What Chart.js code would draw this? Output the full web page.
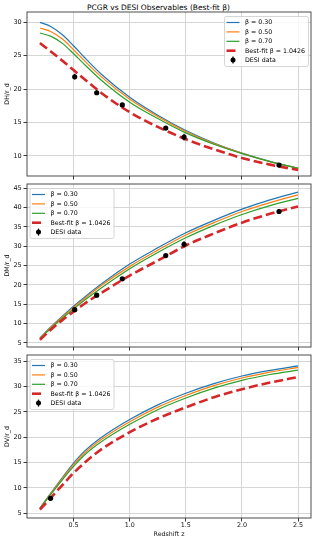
<!DOCTYPE html>
<html>
<head>
<meta charset="utf-8">
<script src="https://cdn.jsdelivr.net/npm/chart.js@4.4.0/dist/chart.umd.min.js"></script>
<style>
  body { margin: 0; background: #fff; }
  #wrap { position: relative; width: 317px; height: 542px; }
  canvas { position: absolute; left: 0; }
  #title {
    position: absolute; top: 3px; left: 0; width: 317px;
    text-align: center; font: 7.5px/9px "DejaVu Sans"; color: #000;
  }
</style>
</head>
<body>
<div id="wrap">
  <div id="title">PCGR vs DESI Observables (Best-fit β)</div>
  <canvas id="cDH" width="317" height="180" style="top:0px"></canvas>
  <canvas id="cDM" width="317" height="171" style="top:180px"></canvas>
  <canvas id="cDV" width="317" height="191" style="top:351px"></canvas>
</div>
<script>
// redshift grid the model curves were read at
const zGrid = [0.2, 0.3, 0.4, 0.5, 0.6, 0.75, 1.0, 1.25, 1.5, 1.75, 2.0, 2.25, 2.5];

// DH / r_d
const dhB030 = [30.0, 29.35, 28.15, 26.5, 24.7, 22.2, 18.8, 16.1, 13.8, 11.95, 10.45, 9.2, 8.15];
const dhB050 = [29.15, 28.6, 27.5, 25.9, 24.2, 21.8, 18.5, 15.9, 13.65, 11.85, 10.4, 9.15, 8.15];
const dhB070 = [28.4, 27.9, 26.85, 25.3, 23.65, 21.3, 18.05, 15.6, 13.45, 11.75, 10.35, 9.15, 8.15];
const dhBest = [26.9, 25.6, 24.25, 22.85, 21.45, 19.4, 16.55, 14.35, 12.5, 11.0, 9.7, 8.7, 7.9];

// DM / r_d
const dmB030 = [6.3, 9.2, 11.9, 14.5, 16.9, 20.3, 25.4, 29.6, 33.5, 36.7, 39.6, 42.0, 44.0];
const dmB050 = [6.2, 9.05, 11.7, 14.2, 16.5, 19.9, 24.8, 29.0, 32.9, 36.1, 39.0, 41.3, 43.3];
const dmB070 = [6.1, 8.85, 11.4, 13.8, 16.1, 19.3, 24.2, 28.4, 32.2, 35.4, 38.2, 40.5, 42.4];
const dmBest = [5.8, 8.5, 10.9, 13.1, 15.2, 18.0, 22.4, 26.3, 30.2, 33.3, 36.1, 38.4, 40.3];

// DV / r_d
const dvB030 = [6.0, 9.05, 12.05, 14.9, 17.3, 20.0, 23.5, 26.4, 28.7, 30.6, 32.1, 33.2, 34.1];
const dvB050 = [5.95, 8.95, 11.85, 14.6, 16.95, 19.6, 23.05, 25.95, 28.25, 30.2, 31.7, 32.85, 33.8];
const dvB070 = [5.9, 8.8, 11.6, 14.25, 16.55, 19.15, 22.55, 25.45, 27.75, 29.7, 31.25, 32.4, 33.25];
const dvBest = [5.7, 8.1, 10.55, 12.95, 15.0, 17.65, 21.0, 23.7, 25.9, 27.9, 29.5, 30.8, 31.9];

// DESI points
const desiZ = [0.51, 0.706, 0.934, 1.321, 1.484, 2.33];
const desiDH = [21.86, 19.46, 17.64, 14.18, 12.82, 8.63];
const desiDHErr = [0.43, 0.33, 0.19, 0.22, 0.52, 0.10];
const desiDM = [13.59, 17.35, 21.58, 27.60, 30.51, 38.99];
const desiDMErr = [0.17, 0.18, 0.16, 0.32, 0.76, 0.53];
const desiDVZ = [0.295];
const desiDV = [7.94];
const desiDVErr = [0.08];

// axes
const xTicks = [0.5, 1.0, 1.5, 2.0, 2.5];
const dhTicks = [10, 15, 20, 25, 30];
const dmTicks = [5, 10, 15, 20, 25, 30, 35, 40, 45];
const dvTicks = [5, 10, 15, 20, 25, 30, 35];

const FONT = "DejaVu Sans";
const BLUE = "#1f77b4", ORANGE = "#ff7f0e", GREEN = "#2ca02c", RED = "#d62728";

function pts(xs, ys) {
  return xs.map((x, i) => ({ x: x, y: ys[i] }));
}

function curve(label, ys, color, order, dashed) {
  return {
    label: label,
    data: pts(zGrid, ys),
    borderColor: color,
    borderWidth: dashed ? 2.6 : 1.2,
    borderDash: dashed ? [9, 4] : [],
    pointRadius: 0,
    fill: false,
    cubicInterpolationMode: "monotone",
    order: order
  };
}

// spines on all four sides
const framePlugin = {
  id: "frame",
  afterDatasetsDraw(chart) {
    const a = chart.chartArea, ctx = chart.ctx;
    ctx.save();
    ctx.strokeStyle = "#3a3a3a";
    ctx.lineWidth = 0.9;
    ctx.strokeRect(a.left, a.top, a.right - a.left, a.bottom - a.top);
    ctx.restore();
  }
};

// vertical error bars for the DESI set
const errorBarPlugin = {
  id: "errBars",
  afterDatasetsDraw(chart) {
    const ctx = chart.ctx, xs = chart.scales.x, ys = chart.scales.y;
    chart.data.datasets.forEach(ds => {
      if (!ds.errs) return;
      ctx.save();
      ctx.strokeStyle = "#000";
      ctx.lineWidth = 1.2;
      ds.data.forEach((p, i) => {
        const px = xs.getPixelForValue(p.x);
        ctx.beginPath();
        ctx.moveTo(px, ys.getPixelForValue(p.y - ds.errs[i]));
        ctx.lineTo(px, ys.getPixelForValue(p.y + ds.errs[i]));
        ctx.stroke();
      });
      ctx.restore();
    });
  }
};

// matplotlib-like legend box inside the axes
const legendPlugin = {
  id: "insideLegend",
  afterDraw(chart, args, opts) {
    const ctx = chart.ctx, a = chart.chartArea;
    const w = 84, h = 50;
    const x0 = opts.corner === "right" ? a.right - 3 - w : a.left + 2.5;
    const y0 = a.top + 4;
    ctx.save();
    ctx.beginPath();
    ctx.roundRect(x0 + 0.5, y0 + 0.5, w, h, 2);
    ctx.fillStyle = "rgba(255,255,255,0.8)";
    ctx.fill();
    ctx.strokeStyle = "#cccccc";
    ctx.lineWidth = 0.8;
    ctx.stroke();

    ctx.font = "6.3px " + FONT;
    ctx.textBaseline = "middle";
    ctx.fillStyle = "#000";
    chart.data.datasets.forEach((ds, i) => {
      const cy = y0 + 6.5 + i * 9.4;
      if (ds.errs) {
        ctx.strokeStyle = "#000";
        ctx.lineWidth = 1.2;
        ctx.beginPath();
        ctx.moveTo(x0 + 9, cy - 3.5);
        ctx.lineTo(x0 + 9, cy + 3.5);
        ctx.stroke();
        ctx.beginPath();
        ctx.arc(x0 + 9, cy, 2.5, 0, 2 * Math.PI);
        ctx.fillStyle = "#000";
        ctx.fill();
      } else {
        ctx.strokeStyle = ds.borderColor;
        ctx.lineWidth = ds.borderWidth;
        ctx.setLineDash(ds.borderDash);
        ctx.beginPath();
        ctx.moveTo(x0 + 2.5, cy);
        ctx.lineTo(x0 + 15.5, cy);
        ctx.stroke();
        ctx.setLineDash([]);
      }
      ctx.fillStyle = "#000";
      ctx.fillText(ds.label, x0 + 21, cy + 0.3);
    });
    ctx.restore();
  }
};

function makePanel(canvasId, p) {
  const datasets = [
    curve("β = 0.30", p.b030, BLUE, 5, false),
    curve("β = 0.50", p.b050, ORANGE, 4, false),
    curve("β = 0.70", p.b070, GREEN, 3, false),
    curve("Best-fit β = 1.0426", p.best, RED, 2, true),
    {
      label: "DESI data",
      data: pts(p.dz, p.dv),
      errs: p.de,
      showLine: false,
      pointRadius: 2.6,
      pointBackgroundColor: "#000",
      pointBorderColor: "#000",
      pointBorderWidth: 0,
      order: 1
    }
  ];

  new Chart(document.getElementById(canvasId), {
    type: "line",
    data: { datasets: datasets },
    options: {
      responsive: false,
      animation: false,
      layout: { padding: { top: p.padTop, right: 6, left: 0, bottom: 0 } },
      plugins: {
        legend: { display: false },
        tooltip: { enabled: false },
        insideLegend: { corner: p.corner }
      },
      scales: {
        x: {
          type: "linear",
          min: 0.085,
          max: 2.615,
          afterBuildTicks: s => { s.ticks = xTicks.map(v => ({ value: v })); },
          afterFit: s => { s.height = p.xHeight; s.paddingLeft = 0; s.paddingRight = 0; },
          border: { display: false },
          grid: { color: "#d6d6d6", lineWidth: 1, tickColor: "#3a3a3a", tickLength: 3.5 },
          ticks: {
            display: p.xLabels,
            padding: 0.5,
            color: "#111",
            font: { family: FONT, size: 6.4 },
            maxRotation: 0,
            callback: v => v.toFixed(1)
          },
          title: {
            display: p.xLabels,
            text: "Redshift z",
            color: "#111",
            font: { family: FONT, size: 6.3 },
            padding: { top: 0, bottom: 4.2 }
          }
        },
        y: {
          min: p.yMin,
          max: p.yMax,
          afterBuildTicks: s => { s.ticks = p.yTicks.map(v => ({ value: v })); },
          afterFit: s => { s.width = 27; s.paddingTop = 0; s.paddingBottom = 0; },
          border: { display: false },
          grid: { color: "#d6d6d6", lineWidth: 1, tickColor: "#3a3a3a", tickLength: 3.5 },
          ticks: {
            padding: 1.8,
            color: "#111",
            font: { family: FONT, size: 6.5 },
            callback: v => String(v)
          },
          title: {
            display: true,
            text: p.yTitle,
            color: "#111",
            font: { family: FONT, size: 6.3 },
            padding: { top: 3.2, bottom: 0 }
          }
        }
      }
    },
    plugins: [framePlugin, errorBarPlugin, legendPlugin]
  });
}

makePanel("cDH", {
  b030: dhB030, b050: dhB050, b070: dhB070, best: dhBest,
  dz: desiZ, dv: desiDH, de: desiDHErr,
  yMin: 7.0, yMax: 31.55, yTicks: dhTicks, yTitle: "DH/r_d",
  padTop: 12, xHeight: 4, xLabels: false, corner: "right"
});

makePanel("cDM", {
  b030: dmB030, b050: dmB050, b070: dmB070, best: dmBest,
  dz: desiZ, dv: desiDM, de: desiDMErr,
  yMin: 3.95, yMax: 46.1, yTicks: dmTicks, yTitle: "DM/r_d",
  padTop: 4, xHeight: 4, xLabels: false, corner: "left"
});

makePanel("cDV", {
  b030: dvB030, b050: dvB050, b070: dvB070, best: dvBest,
  dz: desiDVZ, dv: desiDV, de: desiDVErr,
  yMin: 4.05, yMax: 36.25, yTicks: dvTicks, yTitle: "DV/r_d",
  padTop: 3, xHeight: 24, xLabels: true, corner: "left"
});
</script>
</body>
</html>
